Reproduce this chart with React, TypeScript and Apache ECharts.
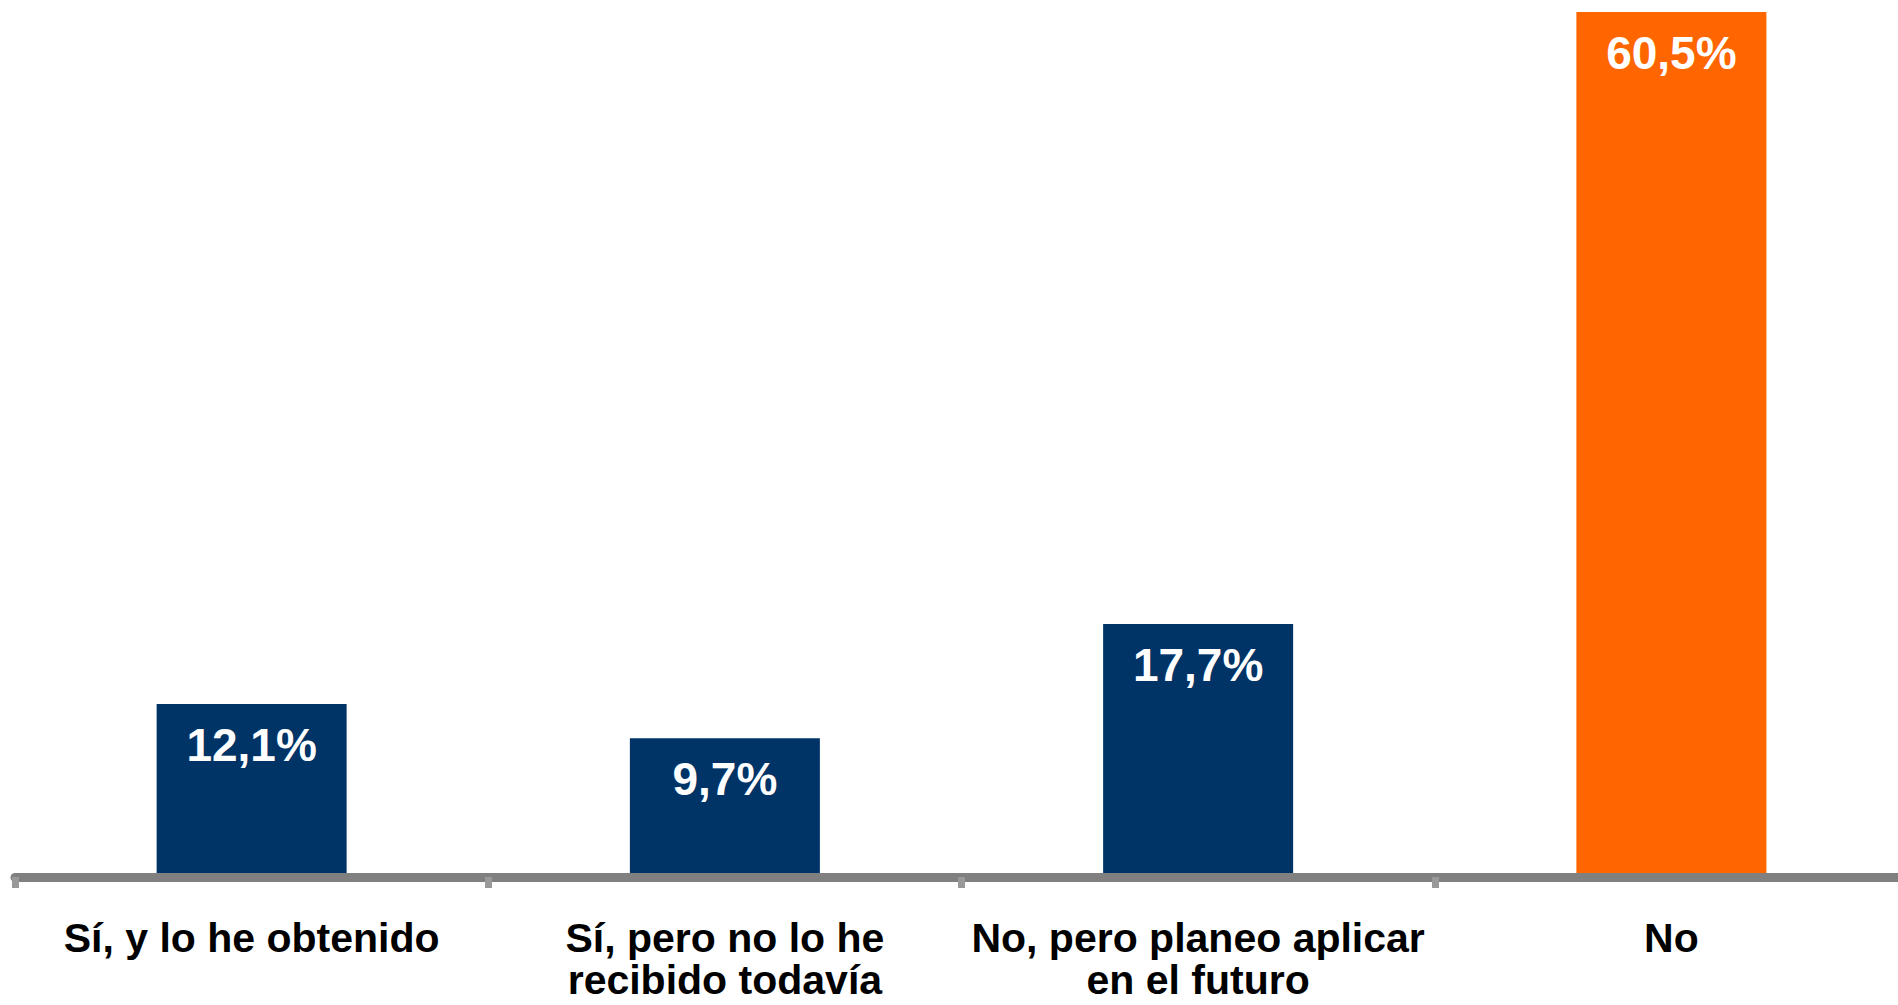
import React, { useEffect, useRef } from "react";
import * as echarts from "echarts";

const categories = [
  "Sí, y lo he obtenido",
  "Sí, pero no lo he\nrecibido todavía",
  "No, pero planeo aplicar\nen el futuro",
  "No",
];
const values = [12.1, 9.7, 17.7, 60.5];

const NAVY = "#003366";
const ORANGE = "#FF6600";
const barColors = [NAVY, NAVY, NAVY, ORANGE];
const FONT = "'Liberation Sans', Arial, Helvetica, sans-serif";

export default function App() {
  const ref = useRef<HTMLDivElement>(null);
  useEffect(() => {
    if (!ref.current) return;
    const chart = echarts.init(ref.current, null, { renderer: "svg" });
    chart.setOption({
      animation: false,
      backgroundColor: "#ffffff",
      grid: { left: 15, right: 2, top: 12, bottom: 128, containLabel: false },
      xAxis: {
        type: "category",
        data: categories,
        z: 10,
        axisLine: { show: true, lineStyle: { color: "#808080", width: 9 } },
        axisTick: {
          show: true,
          length: 11,
          lineStyle: { color: "#999999", width: 7 },
        },
        axisLabel: {
          margin: 40,
          color: "#000000",
          fontFamily: FONT,
          fontWeight: "bold",
          fontSize: 41,
          lineHeight: 42,
          interval: 0,
          align: "center",
        },
      },
      yAxis: {
        type: "value",
        min: 0,
        max: 60.5,
        show: false,
        splitLine: { show: false },
      },
      series: [
        {
          type: "bar",
          barWidth: 190,
          data: values.map((v, i) => ({
            value: v,
            itemStyle: { color: barColors[i] },
          })),
          label: {
            show: true,
            position: "insideTop",
            distance: 18,
            color: "#ffffff",
            fontFamily: FONT,
            fontWeight: "bold",
            fontSize: 46,
            formatter: (p: any) => p.value.toFixed(1).replace(".", ",") + "%",
          },
        },
      ],
    });
    return () => chart.dispose();
  }, []);
  return (
    <div
      style={{
        position: "absolute",
        left: 0,
        top: 0,
        width: 1898,
        height: 1005,
        overflow: "hidden",
        background: "#ffffff",
      }}
    >
      <div ref={ref} style={{ width: 1910, height: 1005 }} />
    </div>
  );
}
